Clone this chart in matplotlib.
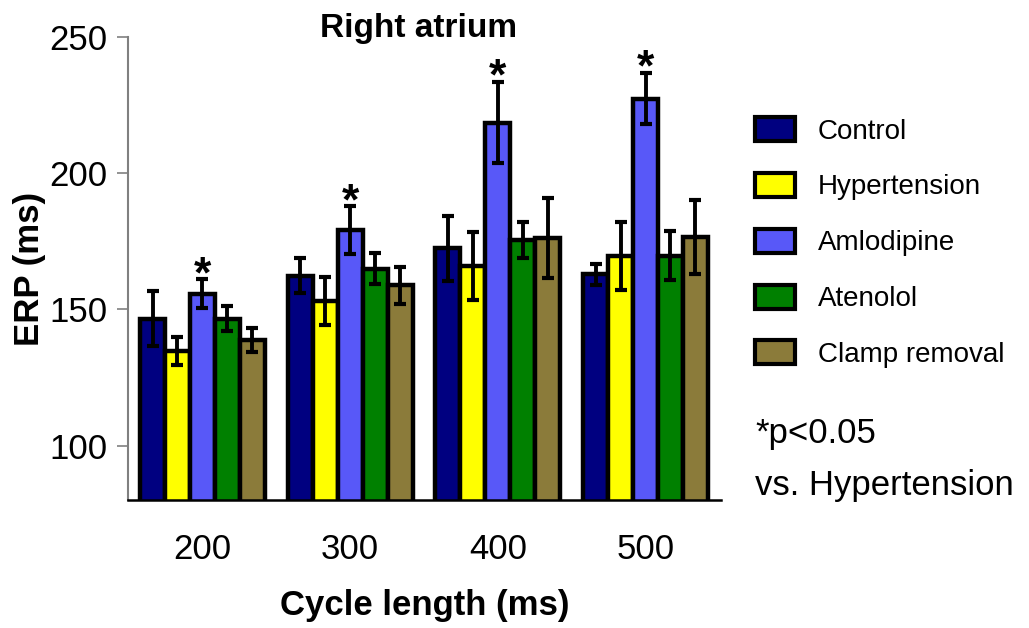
import matplotlib
matplotlib.use("Agg")
import matplotlib.pyplot as plt
import numpy as np

plt.rcParams['font.family'] = ['Liberation Sans', 'DejaVu Sans']

cycle_lengths = ['200', '300', '400', '500']
groups = ['Control', 'Hypertension', 'Amlodipine', 'Atenolol', 'Clamp removal']
control = [146.6, 162.3, 172.4, 162.9]
control_err = [10.0, 6.4, 12.0, 3.8]
hypertension = [134.7, 153.1, 165.9, 169.6]
hypertension_err = [5.0, 8.7, 12.6, 12.4]
amlodipine = [155.8, 179.1, 218.6, 227.4]
amlodipine_err = [5.3, 8.8, 15.0, 9.5]
atenolol = [146.6, 165.0, 175.4, 169.6]
atenolol_err = [4.7, 5.7, 6.5, 9.0]
clamp = [138.7, 158.8, 176.1, 176.4]
clamp_err = [4.3, 6.7, 14.7, 13.6]
significant = [True, True, True, True]  # Amlodipine vs Hypertension
y_ticks = [100, 150, 200, 250]

colors = ['#000080', '#FFFF00', '#5858F8', '#008000', '#8B7B3A']
series = [control, hypertension, amlodipine, atenolol, clamp]
errors = [control_err, hypertension_err, amlodipine_err, atenolol_err, clamp_err]

fig = plt.figure(figsize=(10.29, 6.28), dpi=100)
ax = fig.add_axes([128/1029, 1-500/628, (721-128)/1029, (500-37)/628])

x = np.arange(len(cycle_lengths))
w = 0.169
handles = []
for i, (vals, errs, c, name) in enumerate(zip(series, errors, colors, groups)):
    pos = x + (i - 2) * w
    b = ax.bar(pos, vals, width=w, color=c, edgecolor='black', linewidth=3.2,
               label=name, zorder=2)
    ax.errorbar(pos, vals, yerr=errs, fmt='none', ecolor='black',
                elinewidth=2.8, capsize=4.5, capthick=3.0, zorder=3)
    handles.append(b)

# asterisks above Amlodipine
for j, sig in enumerate(significant):
    if sig:
        top = amlodipine[j] + amlodipine_err[j]
        ax.text(x[j], top - 3.0, '*', ha='center', va='baseline',
                fontsize=32, fontweight='bold', color='black', zorder=4)

ax.set_xlim(-0.504, 3.511)
ax.set_ylim(80, 250)
ax.set_yticks(y_ticks)
ax.set_yticklabels([str(t) for t in y_ticks], fontsize=25)
ax.set_xticks(x)
ax.set_xticklabels(cycle_lengths, fontsize=25)
ax.tick_params(axis='x', length=0, pad=24)
ax.tick_params(axis='y', length=8, width=1.2, color='#808080', pad=7)

for s in ['top', 'right']:
    ax.spines[s].set_visible(False)
ax.spines['left'].set_color('#808080')
ax.spines['left'].set_linewidth(1.5)
ax.spines['bottom'].set_color('black')
ax.spines['bottom'].set_linewidth(1.8)

ax.set_xlabel('Cycle length (ms)', fontsize=25, fontweight='bold', labelpad=16)
ax.set_ylabel('ERP (ms)', fontsize=25, fontweight='bold', labelpad=2)
ax.text(0.49, 1.0, 'Right atrium', transform=ax.transAxes, ha='center',
        va='baseline', fontsize=24, fontweight='bold')

leg = ax.legend(handles=handles, loc='upper left',
                bbox_to_anchor=(755/1029, 1-117/628), bbox_transform=fig.transFigure,
                frameon=False, fontsize=20, handlelength=1.45, handleheight=0.95,
                handletextpad=0.8, labelspacing=1.02, borderpad=0, borderaxespad=0)
for p in leg.get_patches():
    p.set_linewidth(3.0)

fig.text(755/1029, 1-434/628, '*p<0.05', fontsize=25, va='center', ha='left')
fig.text(755/1029, 1-486/628, 'vs. Hypertension', fontsize=25, va='center', ha='left')

fig.savefig('out.png', dpi=100)
